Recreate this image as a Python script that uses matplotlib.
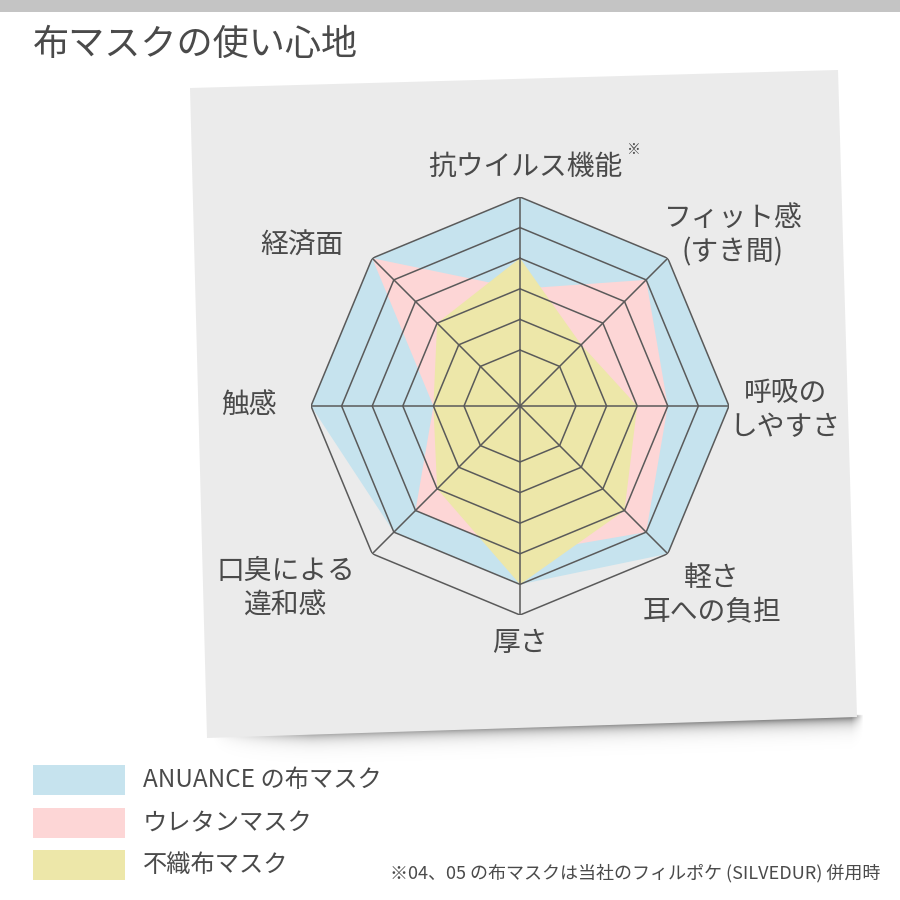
import numpy as np
import matplotlib
matplotlib.use("Agg")
import matplotlib.pyplot as plt
from matplotlib.patches import Polygon, Rectangle

plt.rcParams['font.family'] = ['Noto Sans CJK JP', 'DejaVu Sans']

# ---------------- data ----------------
categories = ['抗ウイルス機能', 'フィット感\n(すき間)', '呼吸の\nしやすさ', '軽さ\n耳への負担',
              '厚さ', '口臭による\n違和感', '触感', '経済面']
series_names = ['ANUANCE の布マスク', 'ウレタンマスク', '不織布マスク']
anuance = [6, 6, 6, 6, 5, 5, 6, 6]
urethane = [3, 5, 4, 5, 4, 4, 2, 6]
nonwoven = [4, 2, 3, 4, 5, 3, 2, 3]
levels = [1, 2, 3, 4, 5, 6]
title = '布マスクの使い心地'
footnote = '※04、05 の布マスクは当社のフィルポケ (SILVEDUR) 併用時'

# ---------------- style ----------------
colors = ['#c6e3ee', '#fdd6d6', '#ede7a9']
text_color = '#4a4a4a'
grid_color = '#5a5a5a'
RMIN = -0.83

W = H = 900
fig = plt.figure(figsize=(9, 9), dpi=100)
fig.patch.set_facecolor('white')

# background / decoration axes in pixel coordinates
bg = fig.add_axes([0, 0, 1, 1])
bg.set_xlim(0, W)
bg.set_ylim(H, 0)
bg.axis('off')

bg.add_patch(Rectangle((0, 0), 900, 12, facecolor='#c4c4c4', edgecolor='none'))

card = [(190, 88), (838, 70), (857, 717), (207, 738)]

# soft shadow under the card (decorative gradient image)
sx0, sx1, sy0, sy1 = 200, 870, 700, 775
gx, gy = np.meshgrid(np.linspace(sx0, sx1, 670), np.linspace(sy0, sy1, 150))
edge = 738 + (gx - 207) * (717 - 738) / (857 - 207)
d = gy - edge
along = np.clip((gx - 212) / 100, 0, 1) * (0.6 + 0.4 * np.clip((gx - 207) / 600, 0, 1))
along *= np.clip((864 - gx) / 12, 0, 1)
alpha = np.where(d >= -2, 0.5 * np.exp(-np.clip(d, 0, None) / 6.5), 0) * along
img = np.zeros(gx.shape + (4,))
img[..., 3] = alpha
bg.imshow(img, extent=(sx0, sx1, sy1, sy0), origin='upper', interpolation='bilinear',
          aspect='auto', zorder=0)
bg.set_xlim(0, W)
bg.set_ylim(H, 0)

bg.add_patch(Polygon(card, closed=True, facecolor='#ebebeb', edgecolor='none', zorder=1))

bg.text(33, 45, title, fontsize=26, color=text_color, ha='left', va='center')

# labels (pixel positions of label centres)
label_pos = [(525, 167), (733, 235), (785, 410), (712, 595),
             (520, 643), (286, 588), (249, 405), (302, 246)]
for lab, (x, y) in zip(categories, label_pos):
    bg.text(x, y, lab, fontsize=20, color=text_color, ha='center', va='center',
            linespacing=1.2, zorder=2)
bg.text(634, 150, '※', fontsize=10, color=text_color, ha='center', va='center', zorder=2)

# legend
leg_y = [780, 823, 865]
for name, c, y in zip(series_names, colors, leg_y):
    bg.add_patch(Rectangle((33, y - 15), 92, 30, facecolor=c, edgecolor='none'))
    bg.text(143, y, name, fontsize=17.5, color=text_color, ha='left', va='center')
bg.text(880, 873, footnote, fontsize=13, color=text_color, ha='right', va='center')

# ---------------- radar ----------------
cx, cy, R = 520, 406, 209
ax = fig.add_axes([(cx - R) / W, 1 - (cy + R) / H, 2 * R / W, 2 * R / H],
                  projection='polar')
ax.set_theta_zero_location('N')
ax.set_theta_direction(-1)
ax.set_ylim(RMIN, levels[-1])
ax.set_axis_off()
ax.patch.set_alpha(0)

n = len(categories)
theta = np.linspace(0, 2 * np.pi, n, endpoint=False)
theta_c = np.append(theta, theta[0])

for vals, c, z in zip([anuance, urethane, nonwoven], colors, [1, 2, 3]):
    v = np.append(vals, vals[0])
    ax.fill(theta_c, v, color=c, zorder=z, linewidth=0)

for lv in levels:
    ax.plot(theta_c, [lv] * (n + 1), color=grid_color, lw=1.1, zorder=5)
for t in theta:
    ax.plot([t, t], [RMIN, levels[-1]], color=grid_color, lw=1.1, zorder=5)

fig.savefig('out.png', dpi=100)
